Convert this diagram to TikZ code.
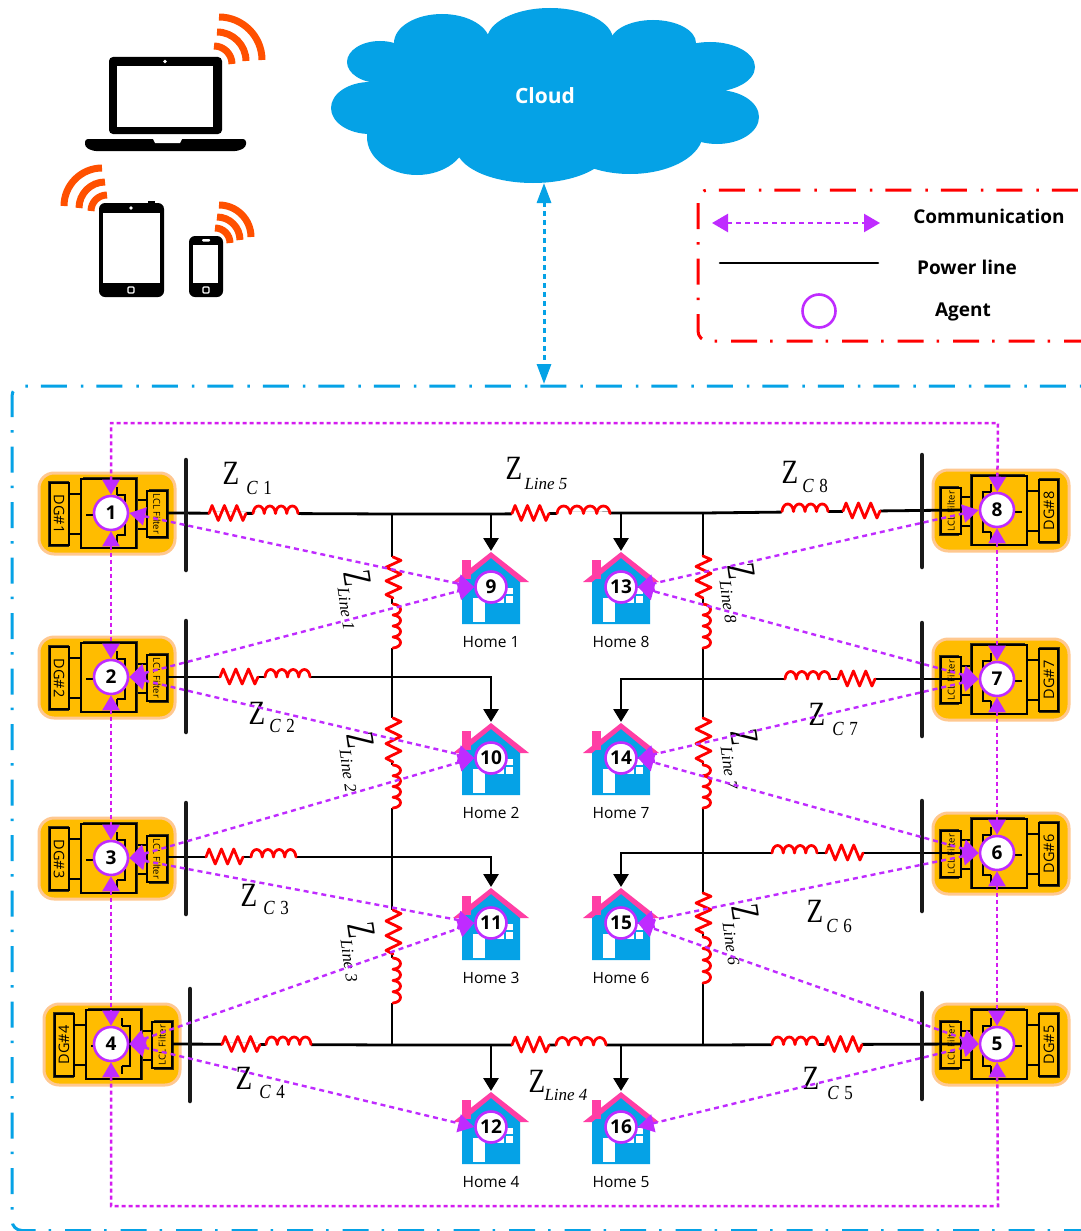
\documentclass[tikz,border=0pt]{standalone}
\usepackage{fontspec}
\setmainfont{Open Sans}
\newfontfamily\serifz{Liberation Serif}
\usetikzlibrary{arrows.meta}
\definecolor{cloudblue}{HTML}{05A2E6}
\definecolor{purp}{HTML}{BF2BFF}
\definecolor{rectpurp}{HTML}{D41CF0}
\definecolor{unitorange}{HTML}{FFBC00}
\definecolor{glowc}{HTML}{FFC890}
\definecolor{roofpink}{HTML}{FF3EA5}
\definecolor{wifiorange}{HTML}{FF5000}
\definecolor{shade}{HTML}{3A3010}
\tikzset{
  x=1pt,y=-1pt,
  power/.style={line width=2.8pt,black},
  powerarrow/.style={power,-{Triangle[length=13pt,width=15pt]}},
  busbar/.style={line width=4.5pt,line cap=round,black!90},
  comm/.style={line width=2.4pt,purp,dash pattern=on 5pt off 4pt,{Triangle[length=16pt,width=18pt]}-{Triangle[length=16pt,width=18pt]}},
  commrect/.style={line width=2.5pt,rectpurp,dash pattern=on 4pt off 3pt,{Triangle[length=15pt,width=17pt,purp]}-{Triangle[length=15pt,width=17pt,purp]}},
  frameblue/.style={line width=3pt,cloudblue,rounded corners=10pt,dash pattern=on 26pt off 14pt on 2.5pt off 13pt},
  framered/.style={line width=3pt,red,rounded corners=10pt,dash pattern=on 26pt off 14pt on 2.5pt off 13pt},
  agent/.style={circle,draw=purp,fill=white,line width=2.6pt,minimum size=34pt,inner sep=0pt,font=\fontsize{19}{19}\selectfont\bfseries},
  homeagent/.style={agent,minimum size=31pt},
  homelabel/.style={font=\fontsize{15.5}{16}\selectfont},
  legendtext/.style={font=\fontsize{19}{20}\selectfont\bfseries},
  wifi/.style={line width=7pt,wifiorange},
  glow/.style={fill=unitorange,draw=glowc,line width=3pt,rounded corners=15pt},
  ubox/.style={draw=black,line width=1.6pt,fill=unitorange},
  uline/.style={draw=black,line width=1.4pt},
  ushadow/.style={fill=shade},
  redpart/.style={draw=red,line width=2.8pt,line join=round,line cap=round},
  zbig/.style={font=\fontsize{34}{34}\selectfont\serifz,inner sep=0pt},
  zbigr/.style={font=\fontsize{40}{40}\selectfont\serifz,inner sep=0pt},
  zsub/.style={font=\fontsize{20}{20}\selectfont\serifz\itshape,inner sep=0pt},
  zline/.style={font=\fontsize{17}{17}\selectfont\serifz\itshape,inner sep=0pt},
}
% resistor: x y length rotation
\newcommand{\resis}[4]{%
  \begin{scope}[shift={(#1,#2)},rotate=#4,xscale=#3]
    \draw[white,line width=4pt] (0,0) -- (1,0);
    \draw[redpart] (0,0) -- (.083,-8) -- (.25,7) -- (.417,-8) -- (.583,7) -- (.75,-8) -- (.917,7) -- (1,0);
  \end{scope}}
% inductor: x y length rotation
\newcommand{\induc}[4]{%
  \begin{scope}[shift={(#1,#2)},rotate=#4,xscale=#3]
    \draw[white,line width=4pt] (0,0) -- (1,0);
    \draw[redpart] (0,0) .. controls (.02,-10) and (.23,-10) .. (.25,0)
      .. controls (.27,-10) and (.48,-10) .. (.5,0)
      .. controls (.52,-10) and (.73,-10) .. (.75,0)
      .. controls (.77,-10) and (.98,-10) .. (1,0);
  \end{scope}}
% DG unit: id x y mirror rotation
\newcommand{\dgunit}[5]{%
  \begin{scope}[shift={(#2,#3)},xscale=#4]
    \draw[glow] (-72,-40) rectangle (64,41);
    \draw[uline] (-42,-19) -- (-30,-19) (-42,21) -- (-30,21) (26,-13) -- (36,-13) (26,16) -- (36,16);
    \fill[ushadow] (-63,-32) rectangle (-42,34);
    \draw[ubox] (-61,-30) rectangle (-42,32);
    \fill[ushadow] (-28,-36) rectangle (27,36);
    \draw[ubox] (-30,-34) rectangle (25,35);
    \draw[uline] (6,-18) -- (14,-18) -- (14,22) -- (6,22) (6,-18) -- (6,-26) (6,22) -- (6,30) (-25,2) -- (-15,2);
    \fill[ushadow] (38,-24) rectangle (58,26);
    \draw[ubox] (36,-22) rectangle (56,24);
    \node[rotate=#5,font=\fontsize{14.5}{15}\selectfont,inner sep=0pt] (dg#1) at (-52,1) {DG\##1};
    \node[rotate=#5,font=\fontsize{9.5}{10}\selectfont,inner sep=0pt] (lcl#1) at (46,1) {LCL Filter};
  \end{scope}}
% house art + label: id x y text
\newcommand{\housepic}[4]{%
  \begin{scope}[shift={(#2,#3)}]
    \fill[cloudblue] (-29,-8) -- (0,-32) -- (29,-8) -- (29,37) -- (-29,37) -- cycle;
    \fill[roofpink] (-29,-27) rectangle (-20,-8);
    \fill[roofpink] (-38,-5) -- (0,-35) -- (38,-5) -- (29,-5) -- (0,-29) -- (-29,-5) -- cycle;
    \fill[white] (-18,11) rectangle (-6,35);
    \fill[white] (6,1) rectangle (22,16);
    \draw[cloudblue,line width=1.2pt] (14,1) -- (14,16) (6,8) -- (22,8);
    \node[homelabel,inner sep=0pt] (lh#1) at (0,55) {#4};
  \end{scope}}
% wifi arc: centre x y radius xsign
\newcommand{\wifiarc}[4]{%
  \begin{scope}[shift={(#1,#2)},xscale=#4*#3,yscale=#3]
    \draw[wifi] (0,-1) .. controls (.55,-1) and (1,-.55) .. (1,0);
  \end{scope}}
\begin{document}
\begin{tikzpicture}
\useasboundingbox (0,0) rectangle (1081,1231);
\fill[white] (0,0) rectangle (1081,1231);
% devices
\fill[black,rounded corners=4pt] (109,134) -- (109,57) -- (222,57) -- (222,134) -- cycle;
\fill[white] (117,66) rectangle (213,127);
\fill[white] (165,61.5) circle (1.8);
\fill[black,rounded corners=3pt] (85,139) -- (246,139) -- (246,147) -- (238,151) -- (93,151) -- (85,147) -- cycle;
\fill[white] (153,139) -- (182,139) -- (180,143) -- (155,143) -- cycle;
\fill[black,rounded corners=6pt] (99,203) rectangle (164,297);
\fill[black] (148,201) rectangle (155,205);
\fill[white] (103,213) rectangle (160,283);
\fill[white] (131,208) circle (1.8);
\draw[white,line width=1.2pt,rounded corners=1pt] (128,287) rectangle (134,293);
\fill[black,rounded corners=6pt] (189,236) rectangle (223,297);
\fill[white] (193,245) rectangle (218,283);
\fill[white,rounded corners=1pt] (202,239) rectangle (210,241.5);
\draw[white,line width=1.2pt,rounded corners=1pt] (203,287) rectangle (209,293);
\wifiarc{219}{60}{43}{1}
\wifiarc{217}{61}{29}{1}
\wifiarc{214}{64}{18}{1}
\wifiarc{102}{206}{38}{-1}
\wifiarc{105}{208}{26}{-1}
\wifiarc{107}{211}{16}{-1}
\wifiarc{219}{237}{32}{1}
\wifiarc{217}{240}{23}{1}
\wifiarc{215}{243}{15}{1}
% cloud
\fill[cloudblue]
  (370,108) ellipse [x radius=39,y radius=26]
  (380,62) ellipse [x radius=33,y radius=21]
  (442,43) ellipse [x radius=48,y radius=29]
  (550,40) ellipse [x radius=63,y radius=32]
  (653,43) ellipse [x radius=43,y radius=23]
  (710,67) ellipse [x radius=45,y radius=25]
  (717,117) ellipse [x radius=42,y radius=27]
  (630,133) ellipse [x radius=73,y radius=41]
  (533,147) ellipse [x radius=77,y radius=36]
  (417,137) ellipse [x radius=50,y radius=38]
  (543,97) ellipse [x radius=173,y radius=53];
\node[font=\fontsize{21}{22}\selectfont\bfseries,text=white,inner sep=0pt] (cloudlabel) at (545,96) {Cloud};
% frames
\coordinate (cloudbottom) at (544,183);
\coordinate (frametop) at (544,384);
\draw[frameblue] (1090,1230.5) -- (12,1230.5) -- (12,386) -- (1090,386);
\draw[framered] (1090,341) -- (698,341) -- (698,190) -- (1090,190);
\draw[line width=3pt,cloudblue,dash pattern=on 5pt off 4pt,{Triangle[length=20pt,width=14pt]}-{Triangle[length=20pt,width=14pt]}] (cloudbottom) -- (frametop);
% legend
\coordinate (lga) at (712,223); \coordinate (lgb) at (880,223);
\draw[comm] (lga) -- (lgb);
\coordinate (lgc) at (720,263); \coordinate (lgd) at (878,263);
\draw[line width=2.6pt,line cap=round] (lgc) -- (lgd);
\node[circle,draw=purp,line width=2.6pt,minimum size=33pt,inner sep=0pt] (lgagent) at (819,311) {};
\node[legendtext,inner sep=0pt] (lgt1) at (989,216) {Communication};
\node[legendtext,inner sep=0pt] (lgt2) at (967,267) {Power line};
\node[legendtext,inner sep=0pt] (lgt3) at (963,312) {Agent};
% DG units
\dgunit{1}{111}{513}{1}{270}
\dgunit{2}{111}{677}{1}{270}
\dgunit{3}{111}{858}{1}{270}
\dgunit{4}{116}{1044}{1}{90}
\dgunit{8}{997}{510}{-1}{90}
\dgunit{7}{997}{679}{-1}{90}
\dgunit{6}{997}{853}{-1}{90}
\dgunit{5}{997}{1044}{-1}{90}
% power network coordinates
\coordinate (f1) at (168,513); \coordinate (f2) at (168,677); \coordinate (f3) at (168,857); \coordinate (f4) at (173,1044);
\coordinate (f8) at (960,510); \coordinate (f7) at (960,679); \coordinate (f6) at (960,853); \coordinate (f5) at (960,1044);
\coordinate (jl1) at (392,514); \coordinate (jl4) at (392,1045);
\coordinate (jr1) at (703,513); \coordinate (jr4) at (703,1045);
\coordinate (t9) at (491,514); \coordinate (t13) at (621,513);
\coordinate (t12) at (491,1045); \coordinate (t16) at (621,1045);
\coordinate (e10) at (491,677); \coordinate (e11) at (491,857);
\coordinate (e14) at (621,679); \coordinate (e15) at (621,853);
\coordinate (r9) at (491,551); \coordinate (r13) at (621,551);
\coordinate (r10) at (491,722); \coordinate (r14) at (621,722);
\coordinate (r11) at (491,887); \coordinate (r15) at (621,887);
\coordinate (r12) at (491,1091); \coordinate (r16) at (621,1091);
% houses
\housepic{1}{491}{587}{Home 1}
\housepic{2}{491}{758}{Home 2}
\housepic{3}{491}{923}{Home 3}
\housepic{4}{491}{1127}{Home 4}
\housepic{8}{621}{587}{Home 8}
\housepic{7}{621}{758}{Home 7}
\housepic{6}{621}{923}{Home 6}
\housepic{5}{621}{1127}{Home 5}
% lines
\draw[power] (f1) -- (jl1) -- (t9) -- (t13) -- (jr1) -- (f8);
\draw[power] (f4) -- (jl4) -- (t12) -- (t16) -- (jr4) -- (f5);
\draw[power] (jl1) -- (jl4);
\draw[power] (jr1) -- (jr4);
\draw[powerarrow] (t9) -- (r9);
\draw[powerarrow] (t13) -- (r13);
\draw[powerarrow] (t12) -- (r12);
\draw[powerarrow] (t16) -- (r16);
\draw[powerarrow] (f2) -- (e10) -- (r10);
\draw[powerarrow] (f3) -- (e11) -- (r11);
\draw[powerarrow] (f7) -- (e14) -- (r14);
\draw[powerarrow] (f6) -- (e15) -- (r15);
% buses
\coordinate (b1a) at (186,460); \coordinate (b1b) at (186,570);
\coordinate (b2a) at (186,621); \coordinate (b2b) at (186,732);
\coordinate (b3a) at (186,803); \coordinate (b3b) at (186,914);
\coordinate (b4a) at (190,989); \coordinate (b4b) at (190,1101);
\coordinate (b8a) at (922,455); \coordinate (b8b) at (922,567);
\coordinate (b7a) at (922,623); \coordinate (b7b) at (922,736);
\coordinate (b6a) at (922,801); \coordinate (b6b) at (922,911);
\coordinate (b5a) at (922,993); \coordinate (b5b) at (922,1099);
\foreach \n in {1,...,8} \draw[busbar] (b\n a) -- (b\n b);
% components
\resis{209}{513.5}{37}{0}\induc{253}{513.5}{45}{0}
\resis{220}{677}{38}{0}\induc{265}{677}{45}{0}
\resis{206}{857}{37}{0}\induc{251}{857}{45}{0}
\resis{222}{1044.5}{38}{0}\induc{266}{1044.5}{45}{0}
\resis{512}{513.5}{37}{0}\induc{557}{513.5}{53}{0}
\resis{512}{1045}{37}{0}\induc{556}{1045}{50}{0}
\induc{782}{511.5}{46}{0}\resis{843}{511}{37}{0}
\induc{785}{679}{45}{0}\resis{838}{679}{37}{0}
\induc{772}{853}{45}{0}\resis{826}{853}{37}{0}
\induc{772}{1044.5}{46}{0}\resis{825}{1044.5}{37}{0}
\resis{393}{557}{41}{-90}\induc{393}{604}{44}{-90}
\resis{393}{718}{44}{-90}\induc{393}{765}{43}{-90}
\resis{393}{910}{44}{-90}\induc{393}{958}{45}{-90}
\resis{703}{556}{42}{-90}\induc{703}{604}{44}{-90}
\resis{703}{718}{44}{-90}\induc{703}{765}{43}{-90}
\resis{703}{893}{40}{-90}\induc{703}{937}{46}{-90}
% impedance labels
\newcommand{\zlab}[6]{\node[zbig] (z#1) at (#2,#3) {\scalebox{.8}[1]{Z}};\node[zsub] (zs#1) at (#4,#5) {\scalebox{.85}[1]{#6}};}
\zlab{c1}{231}{473}{259}{488}{C\,\,\textup{1}}
\zlab{c2}{257}{713}{282}{726}{C\,\,\textup{2}}
\zlab{c3}{249}{895}{276}{908}{C\,\,\textup{3}}
\zlab{c4}{244}{1078}{272}{1092}{C\,\,\textup{4}}
\zlab{c8}{790}{472}{815}{486}{C\,\,\textup{8}}
\zlab{c7}{817}{714}{845}{729}{C\,\,\textup{7}}
\zlab{c6}{815}{911}{839}{926}{C\,\,\textup{6}}
\zlab{c5}{811}{1078}{840}{1093}{C\,\,\textup{5}}
\node[zbig] (zl5) at (514,468) {\scalebox{.8}[1]{Z}};
\node[zline] (zsl5) at (546,484) {Line 5};
\node[zbig] (zl4) at (537,1081) {\scalebox{.8}[1]{Z}};
\node[zline] (zsl4) at (566,1095) {Line 4};
\newcommand{\zrot}[5]{\node[zbigr,rotate=-82] (zr#1) at (#2,#3) {\scalebox{.62}[1]{Z}};\node[zline,rotate=-82] (zrs#1) at (#4,#5) {Line #1};}
\zrot{1}{358}{578}{346}{609}
\zrot{2}{361}{740}{348}{771}
\zrot{3}{362}{930}{349}{961}
\zrot{8}{742}{571}{728}{602}
\zrot{7}{745}{737}{729}{768}
\zrot{6}{746}{912}{731}{944}
% agents
\node[agent] (a1) at (111,513) {1};
\node[agent] (a2) at (111,677) {2};
\node[agent] (a3) at (111,858) {3};
\node[agent] (a4) at (111,1044) {4};
\node[agent] (a5) at (997,1044) {5};
\node[agent] (a6) at (997,853) {6};
\node[agent] (a7) at (997,679) {7};
\node[agent] (a8) at (997,510) {8};
\node[homeagent] (h9) at (491,587) {9};
\node[homeagent] (h10) at (491,758) {10};
\node[homeagent] (h11) at (491,923) {11};
\node[homeagent] (h12) at (491,1127) {12};
\node[homeagent] (h13) at (621,587) {13};
\node[homeagent] (h14) at (621,758) {14};
\node[homeagent] (h15) at (621,923) {15};
\node[homeagent] (h16) at (621,1127) {16};
% communication
\coordinate (ctl) at (111,423); \coordinate (ctr) at (998,423);
\coordinate (cbl) at (111,1206); \coordinate (cbr) at (998,1206);
\draw[commrect] (a1) -- (ctl) -- (ctr) -- (a8);
\draw[commrect] (a4) -- (cbl) -- (cbr) -- (a5);
\draw[commrect] (a1) -- (a2);
\draw[commrect] (a2) -- (a3);
\draw[commrect] (a3) -- (a4);
\draw[commrect] (a8) -- (a7);
\draw[commrect] (a7) -- (a6);
\draw[commrect] (a6) -- (a5);
\foreach \p/\q in {a1/h9,a2/h9,a2/h10,a3/h10,a3/h11,a4/h11,a4/h12}
  \draw[comm] (\p.east) -- (\q.west);
\foreach \p/\q in {a8/h13,a7/h13,a7/h14,a6/h14,a6/h15,a5/h15,a5/h16}
  \draw[comm] (\p.west) -- (\q.east);
\end{tikzpicture}
\end{document}
